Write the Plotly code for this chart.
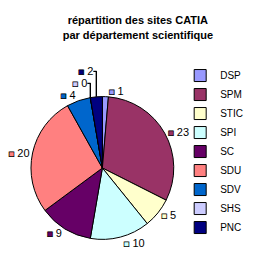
import plotly.graph_objects as go

categories = ["DSP", "SPM", "STIC", "SPI", "SC", "SDU", "SDV", "SHS", "PNC"]
values = [1, 23, 5, 10, 9, 20, 4, 0, 2]
colors = ["#9999FF", "#993366", "#FFFFCC", "#CCFFFF", "#660066", "#FF8080", "#0066CC", "#CCCCFF", "#000080"]
title_lines = ["répartition des sites CATIA", "par département scientifique"]

FONT = "Arial, Liberation Sans, sans-serif"

fig = go.Figure(go.Pie(
    labels=categories,
    values=values,
    customdata=colors,
    sort=False,
    direction="clockwise",
    rotation=0,
    marker=dict(colors=colors, line=dict(color="black", width=1)),
    texttemplate="<span style='font-size:10px;color:%{customdata};stroke:black;stroke-width:0.7px'>■</span> %{value}",
    textposition="outside",
    textfont=dict(family=FONT, size=11, color="black"),
    hoverinfo="label+value",
    domain=dict(x=[0.11, 0.64], y=[0.145, 0.655]),
    showlegend=True,
))

fig.update_layout(
    width=273, height=280,
    margin=dict(l=0, r=0, t=0, b=0),
    paper_bgcolor="white",
    plot_bgcolor="white",
    font=dict(family=FONT, size=10, color="black"),
    title=dict(
        text="<br>".join(title_lines),
        x=0.505, xanchor="center", y=0.913, yanchor="top",
        font=dict(family=FONT, size=11, color="black", weight="bold"),
    ),
    legend=dict(
        x=0.66, xanchor="left", y=0.782, yanchor="top",
        font=dict(family=FONT, size=10, color="black"),
        itemwidth=30,
        bgcolor="rgba(0,0,0,0)",
        traceorder="normal",
    ),
)

fig.write_html("out.html")
